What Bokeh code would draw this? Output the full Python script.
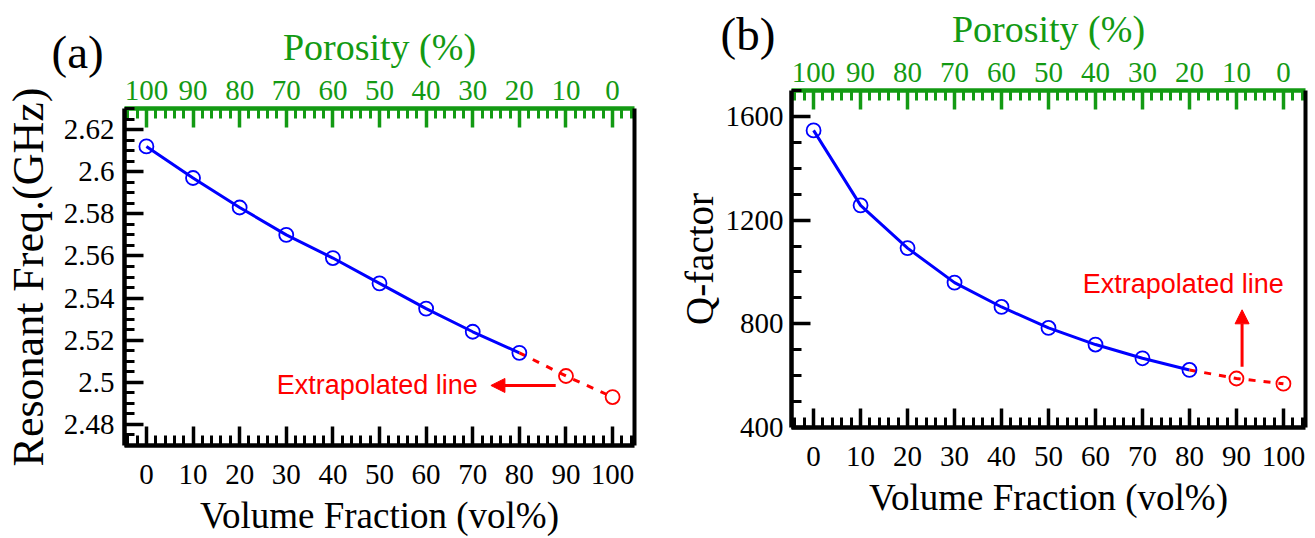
import numpy as np
from bokeh.plotting import figure
from bokeh.models import (LinearAxis, FixedTicker, CustomJSTickFormatter, Range1d,
                          Label, Arrow, NormalHead, Title)
from bokeh.layouts import row
from bokeh.embed import file_html
from bokeh.resources import INLINE

# ---------------- data ----------------
vol_fraction = [0, 10, 20, 30, 40, 50, 60, 70, 80]
vol_extrap = [80, 90, 100]

freq_measured = [2.612, 2.597, 2.583, 2.570, 2.559, 2.547, 2.535, 2.524, 2.514]
freq_extrap = [2.514, 2.503, 2.493]

q_measured = [1546, 1257, 1092, 959, 865, 784, 720, 667, 622]
q_extrap = [622, 589, 569]

x_ticks = [0, 10, 20, 30, 40, 50, 60, 70, 80, 90, 100]
freq_ticks = [2.48, 2.50, 2.52, 2.54, 2.56, 2.58, 2.60, 2.62]
q_ticks = [400, 800, 1200, 1600]

GREEN = "#139a13"
SERIF = "Liberation Serif"
SANS = "Liberation Sans"
TICK_FS = "29px"


def style_axis(ax, color, ticker, formatter, label=None, label_size="37px",
               lab_standoff=6, title_standoff=4):
    ax.ticker = ticker
    ax.formatter = formatter
    ax.axis_line_color = color
    ax.axis_line_width = 4.5
    ax.major_tick_line_color = color
    ax.major_tick_line_width = 3.5
    ax.minor_tick_line_color = color
    ax.minor_tick_line_width = 3
    ax.major_tick_in = 19
    ax.major_tick_out = 0
    ax.minor_tick_in = 10
    ax.minor_tick_out = 0
    ax.major_label_text_font = SERIF
    ax.major_label_text_font_size = TICK_FS
    ax.major_label_text_color = color
    ax.major_label_standoff = lab_standoff
    if label is not None:
        ax.axis_label = label
        ax.axis_label_text_font = SERIF
        ax.axis_label_text_font_size = label_size
        ax.axis_label_text_font_style = "normal"
        ax.axis_label_text_color = color
        ax.axis_label_standoff = title_standoff


def x_ticker():
    return FixedTicker(ticks=x_ticks, minor_ticks=list(np.arange(-4, 105, 2)))


def make_panel(width, height, margin_top, y_range, y_ticker, y_fmt, y_label, y_label_size,
               left_border, y_lab_standoff, y_title_standoff, ys_meas, ys_ext,
               tag, tag_offset):
    p = figure(width=width, height=height, x_range=Range1d(-4.7, 104.7), y_range=y_range,
               output_backend="svg", toolbar_location=None, title=None,
               min_border_left=left_border, min_border_right=10,
               min_border_top=90, min_border_bottom=87,
               margin=(margin_top, 0, 0, 0))
    p.grid.visible = False
    p.outline_line_color = None
    p.background_fill_color = "white"
    p.border_fill_color = "white"

    style_axis(p.xaxis[0], "black", x_ticker(),
               CustomJSTickFormatter(code="return String(Math.round(tick));"),
               "Volume Fraction (vol%)", "37px", 19, 8)
    style_axis(p.yaxis[0], "black", y_ticker, y_fmt, y_label, y_label_size,
               y_lab_standoff, y_title_standoff)

    # top (porosity) axis; a blank label only reserves room for the heading row
    top_ax = LinearAxis()
    style_axis(top_ax, GREEN, x_ticker(),
               CustomJSTickFormatter(code="return String(Math.round(100 - tick));"),
               " ", "19px", 9, 0)
    p.add_layout(top_ax, "above")

    # panel tag and "Porosity (%)" heading, drawn on the same row
    p.add_layout(Title(text=tag, align="left", offset=tag_offset, vertical_align="bottom",
                       standoff=-49, text_font=SERIF, text_font_size="47px",
                       text_font_style="normal", text_color="black"), "above")
    p.add_layout(Title(text="Porosity (%)", align="center", vertical_align="bottom",
                       standoff=-38, text_font=SERIF, text_font_size="38px",
                       text_font_style="normal", text_color=GREEN), "above")

    right_ax = LinearAxis(ticker=FixedTicker(ticks=[]), axis_line_color="black",
                          axis_line_width=4, major_tick_in=0, major_tick_out=0,
                          minor_tick_in=0, minor_tick_out=0,
                          major_label_text_font_size="0px")
    p.add_layout(right_ax, "right")

    p.line(vol_fraction, ys_meas, line_color="blue", line_width=3)
    p.line(vol_extrap, ys_ext, line_color="red", line_width=3, line_dash="7 8")
    p.scatter(vol_fraction, ys_meas, marker="circle", size=14, fill_color=None,
              line_color="blue", line_width=1.8)
    p.scatter(vol_extrap[1:], ys_ext[1:], marker="circle", size=14, fill_color=None,
              line_color="red", line_width=1.8)
    return p


# left panel sits 18 px lower than the right one
p1 = make_panel(660, 520, 18, Range1d(2.47, 2.63),
                FixedTicker(ticks=freq_ticks,
                            minor_ticks=list(np.round(np.arange(2.47, 2.631, 0.005), 3))),
                CustomJSTickFormatter(code="return String(Math.round(tick*100)/100);"),
                "Resonant Freq.(GHz)", "44px", 123, 10, 8,
                freq_measured, freq_extrap, "(a)", -73)
p1.min_border_right = 26

p1.add_layout(Label(x=71.1, y=2.4985, text="Extrapolated line", text_font=SANS,
                    text_font_size="27px", text_color="red",
                    text_align="right", text_baseline="middle"))
p1.add_layout(Arrow(end=NormalHead(size=14, fill_color="red", line_color="red"),
                    x_start=87.8, y_start=2.4985, x_end=73.9, y_end=2.4985,
                    line_color="red", line_width=3))

p2 = make_panel(655, 520, 0, Range1d(400, 1700),
                FixedTicker(ticks=q_ticks, minor_ticks=list(range(400, 1701, 100))),
                CustomJSTickFormatter(code="return String(Math.round(tick));"),
                "Q-factor", "39px", 131, 8, 2,
                q_measured, q_extrap, "(b)", -71)

p2.add_layout(Label(x=100.1, y=952, text="Extrapolated line", text_font=SANS,
                    text_font_size="27px", text_color="red",
                    text_align="right", text_baseline="middle"))
p2.add_layout(Arrow(end=NormalHead(size=14, fill_color="red", line_color="red"),
                    x_start=91.2, y_start=634, x_end=91.2, y_end=854,
                    line_color="red", line_width=3))

layout = row(p1, p2)
open("out.html", "w").write(file_html(layout, INLINE))
